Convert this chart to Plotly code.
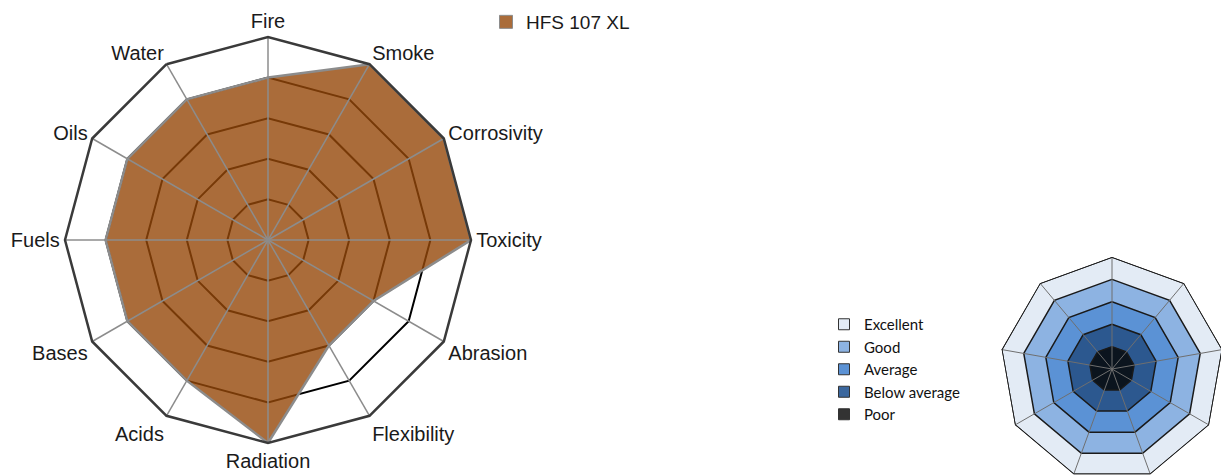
import plotly.graph_objects as go

# ---- data ----
categories = ["Fire", "Smoke", "Corrosivity", "Toxicity", "Abrasion", "Flexibility",
              "Radiation", "Acids", "Bases", "Fuels", "Oils", "Water"]
hfs_values = [4, 5, 5, 5, 3, 3, 5, 4, 4, 4, 4, 4]
series_name = "HFS 107 XL"
rating_levels = [1, 2, 3, 4]
max_rating = 5

scale_labels = ["Excellent", "Good", "Average", "Below average", "Poor"]
scale_radii = [5, 4, 3, 2, 1]
scale_colors = ["#E3EBF5", "#8DB3E2", "#5B92D5", "#2C588F", "#0B141E"]
scale_swatch = ["#E3EBF5", "#8DB3E2", "#5B92D5", "#3B679E", "#333333"]
scale_spokes = ["s1", "s2", "s3", "s4", "s5", "s6", "s7", "s8", "s9"]

fig = go.Figure()

# ---- main radar ----
theta_closed = categories + [categories[0]]
fig.add_trace(go.Scatterpolar(
    r=hfs_values + [hfs_values[0]], theta=theta_closed,
    mode="lines", fill="toself", fillcolor="rgba(149,71,9,0.8)",
    line=dict(color="#8c8c8c", width=2.5), showlegend=False, subplot="polar"))

spoke_r, spoke_t = [], []
for c in categories:
    spoke_r += [0, max_rating, None]
    spoke_t += [c, c, None]
fig.add_trace(go.Scatterpolar(r=spoke_r, theta=spoke_t, mode="lines",
                              line=dict(color="#8c8c8c", width=1.5),
                              showlegend=False, hoverinfo="skip", subplot="polar"))

fig.add_trace(go.Scatterpolar(r=[None], theta=[categories[0]], mode="markers",
                              marker=dict(symbol="square", size=13, color="#AA6C3A",
                                          line=dict(color="#8c8c8c", width=1)),
                              name=series_name, legend="legend", subplot="polar"))

# ---- rating scale nonagon ----
spokes_closed = scale_spokes + [scale_spokes[0]]
for rad, col in zip(scale_radii, scale_colors):
    fig.add_trace(go.Scatterpolar(r=[rad] * len(spokes_closed), theta=spokes_closed,
                                  mode="lines", fill="toself", fillcolor=col,
                                  line=dict(color="#1a1a1a", width=1.5),
                                  showlegend=False, hoverinfo="skip", subplot="polar2"))
sr, st = [], []
for s in scale_spokes:
    sr += [0, max_rating, None]
    st += [s, s, None]
fig.add_trace(go.Scatterpolar(r=sr, theta=st, mode="lines",
                              line=dict(color="#6f6f6f", width=1),
                              showlegend=False, hoverinfo="skip", subplot="polar2"))
fig.add_trace(go.Scatterpolar(r=[max_rating] * len(spokes_closed), theta=spokes_closed,
                              mode="lines", line=dict(color="#1a1a1a", width=1.5),
                              showlegend=False, hoverinfo="skip", subplot="polar2"))
for i, (lab, col) in enumerate(zip(scale_labels, scale_swatch)):
    fig.add_trace(go.Scatterpolar(r=[None], theta=[scale_spokes[0]], mode="markers",
                                  marker=dict(symbol="square", size=11, color=col,
                                              line=dict(color="#333333", width=1)),
                                  name=lab, legend="legend2", legendgroup=f"g{i}",
                                  subplot="polar2"))

W, H = 1229, 475
cx, cy, R = 260, 232, 203
sx, sy, sR = 1104, 361, 112
fig.update_layout(
    width=W, height=H, margin=dict(l=0, r=0, t=0, b=0, autoexpand=False),
    paper_bgcolor="white", plot_bgcolor="white",
    polar=dict(
        domain=dict(x=[(cx - R) / W, (cx + R) / W], y=[1 - (cy + R) / H, 1 - (cy - R) / H]),
        bgcolor="white", gridshape="linear",
        radialaxis=dict(range=[0, max_rating], tickvals=rating_levels, showticklabels=False,
                        ticks="", showline=False, gridcolor="#000000", gridwidth=2.2),
        angularaxis=dict(type="category", categoryarray=categories, direction="clockwise",
                         rotation=90, showgrid=False, showline=True, linecolor="#3a3a3a",
                         linewidth=2.5, ticks="",
                         tickfont=dict(family="Liberation Sans, Arial", size=20, color="#1a1a1a")),
    ),
    polar2=dict(
        domain=dict(x=[(sx - sR) / W, (sx + sR) / W], y=[1 - (sy + sR) / H, 1 - (sy - sR) / H]),
        bgcolor="rgba(0,0,0,0)", gridshape="linear",
        radialaxis=dict(range=[0, max_rating], visible=False, showgrid=False),
        angularaxis=dict(type="category", categoryarray=scale_spokes, direction="clockwise",
                         rotation=90, showgrid=False, showline=False, showticklabels=False,
                         ticks=""),
    ),
    legend=dict(x=478 / W, y=1 + 5 / H, xanchor="left", yanchor="top",
                font=dict(family="Liberation Sans, Arial", size=19, color="#1a1a1a"),
                bgcolor="rgba(0,0,0,0)", itemclick=False),
    legend2=dict(x=816 / W, y=1 - 300 / H, xanchor="left", yanchor="top",
                 font=dict(family="Lato, Noto Sans", size=15, color="#111111"),
                 bgcolor="rgba(0,0,0,0)", tracegroupgap=0, itemclick=False),
)

fig.write_html("out.html")
